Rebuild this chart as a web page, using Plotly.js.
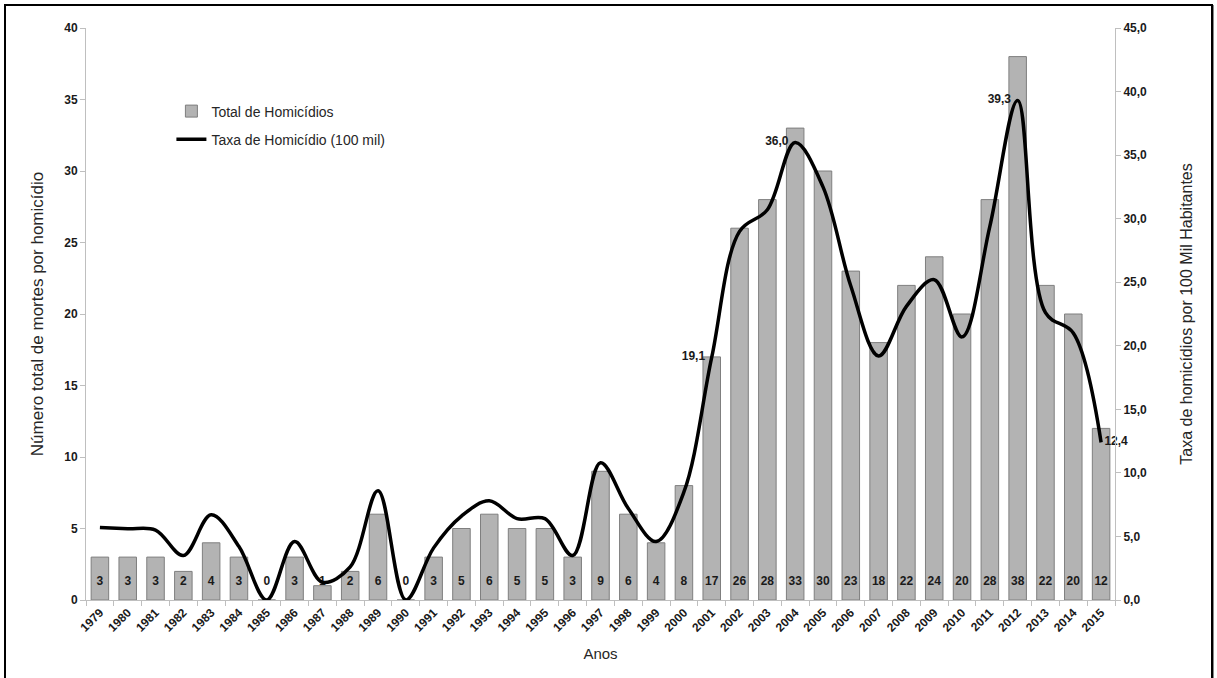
<!DOCTYPE html>
<html>
<head>
<meta charset="utf-8">
<script src="https://cdn.plot.ly/plotly-3.0.1.min.js"></script>
<style>
  html, body { margin: 0; padding: 0; background: #ffffff; overflow: hidden; }
  #chart { width: 1217px; height: 678px; }
  #frame { position: absolute; left: 4px; top: 4px; width: 1205px; height: 690px;
           border: 2px solid #000; box-shadow: 1px 1px 0 #888; pointer-events: none; }
</style>
</head>
<body>
<div id="chart"></div>
<div id="frame"></div>
<script>
// ---- data ----
const years = ["1979","1980","1981","1982","1983","1984","1985","1986","1987","1988","1989","1990",
  "1991","1992","1993","1994","1995","1996","1997","1998","1999","2000","2001","2002","2003","2004",
  "2005","2006","2007","2008","2009","2010","2011","2012","2013","2014","2015"];
const totalHomicidios = [3,3,3,2,4,3,0,3,1,2,6,0,3,5,6,5,5,3,9,6,4,8,17,26,28,33,30,23,18,22,24,20,28,38,22,20,12];
const taxaHomicidio = [5.7,5.6,5.5,3.5,6.7,4.2,0.0,4.6,1.4,2.6,8.6,0.0,4.1,6.6,7.8,6.4,6.4,3.5,10.8,7.2,4.6,8.5,
  19.1,29.0,30.7,36.0,32.5,24.7,19.2,23.1,25.2,20.7,29.4,39.3,22.6,21.0,12.4];
const labeledYears = ["2001","2004","2012","2015"];
const labelSide = {"2001":"middle left","2004":"middle left","2012":"middle left","2015":"middle right"};
const yLeftTicks = [0,5,10,15,20,25,30,35,40];
const yRightTicks = [0,5,10,15,20,25,30,35,40,45];

const FONT = '"Liberation Sans", Arial, sans-serif';
const NB = '\u00a0';

const fmt1 = v => v.toFixed(1).replace('.', ',');
const lineText = years.map((y, i) => {
  if (!labeledYears.includes(y)) return '';
  const t = fmt1(taxaHomicidio[i]);
  return labelSide[y] === 'middle right' ? NB + t : t + NB + NB;
});
const linePos = years.map(y => labelSide[y] || 'middle center');

const barTrace = {
  type: 'bar', name: 'Total de Homicídios', legendgroup: 'a',
  x: years, y: totalHomicidios, yaxis: 'y',
  width: 0.63,
  marker: { color: '#b3b3b3', line: { color: '#7f7f7f', width: 1 } },
  hoverinfo: 'skip'
};
const barLabels = {
  type: 'scatter', mode: 'markers+text', showlegend: false,
  x: years, y: totalHomicidios.map(() => 0), yaxis: 'y',
  marker: { size: 18, opacity: 0 },
  text: totalHomicidios.map(String), textposition: 'top center',
  textfont: { family: FONT, size: 12, color: '#1a1a1a', weight: 'bold' },
  hoverinfo: 'skip', cliponaxis: false
};
const lineTrace = {
  type: 'scatter', mode: 'lines+text', name: 'Taxa de Homicídio (100 mil)', legendgroup: 'b',
  x: years, y: taxaHomicidio, yaxis: 'y2',
  line: { color: '#000000', width: 3.5, shape: 'spline', smoothing: 1 },
  text: lineText, textposition: linePos,
  textfont: { family: FONT, size: 12, color: '#1a1a1a', weight: 'bold' },
  hoverinfo: 'skip', cliponaxis: false
};

const layout = {
  width: 1217, height: 678,
  margin: { l: 86, r: 102, t: 28, b: 78 },
  paper_bgcolor: '#ffffff', plot_bgcolor: '#ffffff',
  separators: ',.',
  showlegend: true,
  legend: {
    x: 0.083, y: 0.882, xanchor: 'left', yanchor: 'top',
    bgcolor: 'rgba(0,0,0,0)', traceorder: 'grouped', tracegroupgap: 7,
    font: { family: FONT, size: 14, color: '#262626' }
  },
  xaxis: {
    type: 'category', range: [-0.5, years.length - 0.5], tickangle: -45,
    tickson: 'boundaries', ticks: 'outside', ticklen: 5, tickcolor: '#bfbfbf',
    showline: true, linecolor: '#bfbfbf', linewidth: 1, showgrid: false, zeroline: false,
    tickfont: { family: FONT, size: 12, color: '#1a1a1a', weight: 'bold' },
    title: { text: 'Anos', font: { family: FONT, size: 15, color: '#262626' }, standoff: 14 }
  },
  yaxis: {
    range: [0, 40], tickvals: yLeftTicks, ticktext: yLeftTicks.map(String),
    ticks: 'outside', ticklen: 5, tickcolor: '#bfbfbf',
    showline: true, linecolor: '#bfbfbf', linewidth: 1, showgrid: false, zeroline: false,
    tickfont: { family: FONT, size: 12, color: '#1a1a1a', weight: 'bold' },
    title: { text: 'Número total de mortes por homicídio', font: { family: FONT, size: 17, color: '#262626' }, standoff: 16 }
  },
  yaxis2: {
    overlaying: 'y', side: 'right',
    range: [0, 45], tickvals: yRightTicks, ticktext: yRightTicks.map(fmt1),
    ticks: 'outside', ticklen: 5, tickcolor: '#bfbfbf',
    showline: true, linecolor: '#bfbfbf', linewidth: 1, showgrid: false, zeroline: false,
    tickfont: { family: FONT, size: 12, color: '#1a1a1a', weight: 'bold' },
    title: { text: 'Taxa de homicídios por 100 Mil Habitantes', font: { family: FONT, size: 16, color: '#262626' }, standoff: 34 }
  },
  hovermode: false
};

Plotly.newPlot('chart', [barTrace, lineTrace, barLabels], layout, { displayModeBar: false, staticPlot: true });
</script>
</body>
</html>
